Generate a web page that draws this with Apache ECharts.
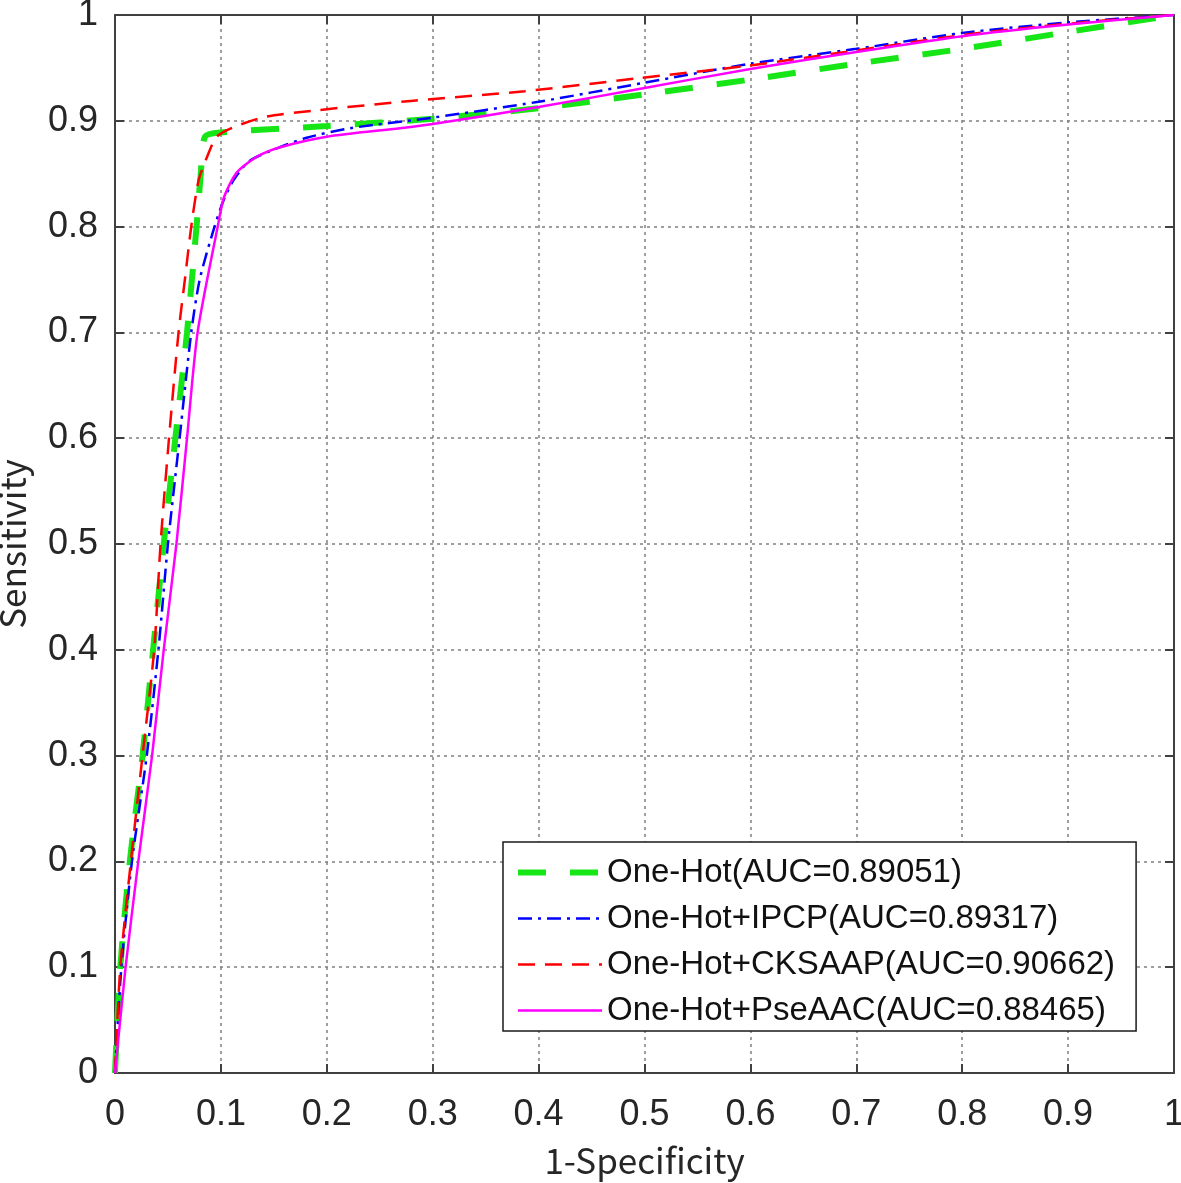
<!DOCTYPE html>
<html>
<head>
<meta charset="utf-8">
<script src="https://cdn.jsdelivr.net/npm/echarts@6/dist/echarts.min.js"></script>
<style>
  html, body { margin: 0; padding: 0; background: #fff; }
  #chart { width: 1181px; height: 1183px; }
</style>
</head>
<body>
<div id="chart"></div>
<script>
// ROC curves (x = 1-Specificity, y = Sensitivity)
const oneHotFpr = [0, 0.005, 0.014, 0.026, 0.036, 0.046, 0.057, 0.068, 0.077, 0.081, 0.085, 0.1, 0.2, 0.3, 0.4, 0.5, 0.6, 0.7, 0.8, 0.9, 1]
const oneHotTpr = [0, 0.1, 0.2, 0.3, 0.4, 0.5, 0.6, 0.7, 0.8, 0.85, 0.885, 0.889, 0.895, 0.902, 0.912, 0.925, 0.939, 0.954, 0.968, 0.984, 1]

const ipcpFpr = [0, 0.006, 0.016, 0.030, 0.041, 0.050, 0.061, 0.072, 0.080, 0.094, 0.103, 0.112, 0.127, 0.153, 0.181, 0.222, 0.3, 0.4, 0.5, 0.6, 0.7, 0.8, 0.9, 1]
const ipcpTpr = [0, 0.1, 0.2, 0.3, 0.4, 0.5, 0.6, 0.7, 0.75, 0.8, 0.826, 0.844, 0.862, 0.874, 0.884, 0.893, 0.903, 0.918, 0.936, 0.954, 0.968, 0.983, 0.993, 1]

const cksaapFpr = [0, 0.005, 0.015, 0.026, 0.037, 0.043, 0.051, 0.060, 0.066, 0.072, 0.079, 0.087, 0.096, 0.112, 0.143, 0.191, 0.282, 0.387, 0.492, 0.597, 0.703, 0.808, 0.913, 1]
const cksaapTpr = [0, 0.1, 0.2, 0.3, 0.4, 0.5, 0.6, 0.7, 0.75, 0.8, 0.844, 0.866, 0.885, 0.894, 0.904, 0.910, 0.919, 0.928, 0.94, 0.952, 0.967, 0.982, 0.993, 1]

const pseaacFpr = [0, 0.010, 0.022, 0.035, 0.046, 0.058, 0.068, 0.078, 0.097, 0.103, 0.115, 0.134, 0.156, 0.2, 0.269, 0.3, 0.4, 0.5, 0.6, 0.7, 0.8, 0.9, 1]
const pseaacTpr = [0, 0.1, 0.2, 0.3, 0.4, 0.5, 0.6, 0.7, 0.8, 0.828, 0.851, 0.866, 0.875, 0.885, 0.893, 0.897, 0.913, 0.931, 0.949, 0.965, 0.98, 0.991, 1]

const seriesNames = [
  'One-Hot(AUC=0.89051)',
  'One-Hot+IPCP(AUC=0.89317)',
  'One-Hot+CKSAAP(AUC=0.90662)',
  'One-Hot+PseAAC(AUC=0.88465)'
]
const tickValues = ['0', '0.1', '0.2', '0.3', '0.4', '0.5', '0.6', '0.7', '0.8', '0.9', '1']

const pairs = (xs, ys) => xs.map((x, i) => [x, ys[i]])

const chart = echarts.init(document.getElementById('chart'))

const labelFont = { fontFamily: 'Liberation Sans', fontSize: 36, color: '#262626' }
const nameFont = { fontFamily: 'Noto Sans CJK SC', fontSize: 35, color: '#262626' }
const gridLine = { show: true, lineStyle: { type: [3, 4], color: '#808080', width: 1.5 } }
const boxLine = { show: true, onZero: false, lineStyle: { color: '#404040', width: 2 } }
const inTick = { show: true, inside: true, length: 9, lineStyle: { color: '#404040', width: 2 } }

const option = {
  animation: false,
  backgroundColor: '#fff',
  grid: { left: 115, top: 15, right: 7, bottom: 110, show: false, containLabel: false, outerBoundsMode: 'none' },
  legend: {
    orient: 'vertical',
    left: 503,
    top: 842,
    padding: [14, 21, 4, 12],
    itemGap: 13,
    itemWidth: 84,
    itemHeight: 14,
    backgroundColor: '#fff',
    borderColor: '#1a1a1a',
    borderWidth: 1.5,
    itemStyle: { opacity: 0 },
    lineStyle: { width: 'inherit' },
    textStyle: { fontFamily: 'Liberation Sans', fontSize: 33, lineHeight: 33, color: '#111' },
    data: seriesNames
  },
  xAxis: [{
    type: 'value', min: 0, max: 1, interval: 0.1, position: 'bottom',
    name: '1-Specificity', nameLocation: 'middle', nameGap: 70,
    nameTextStyle: nameFont,
    axisLine: boxLine, axisTick: inTick,
    axisLabel: Object.assign({ margin: 24, formatter: v => tickValues[Math.round(v * 10)] }, labelFont),
    splitLine: gridLine
  }, {
    type: 'value', min: 0, max: 1, interval: 0.1, position: 'top',
    axisLine: boxLine, axisTick: inTick, axisLabel: { show: false }, splitLine: { show: false }
  }],
  yAxis: [{
    type: 'value', min: 0, max: 1, interval: 0.1, position: 'left',
    name: 'Sensitivity', nameLocation: 'middle', nameGap: 85,
    nameTextStyle: nameFont,
    axisLine: boxLine, axisTick: inTick,
    axisLabel: Object.assign({ margin: 17, formatter: v => tickValues[Math.round(v * 10)] }, labelFont),
    splitLine: gridLine
  }, {
    type: 'value', min: 0, max: 1, interval: 0.1, position: 'right',
    axisLine: boxLine, axisTick: inTick, axisLabel: { show: false }, splitLine: { show: false }
  }],
  series: [
    {
      name: seriesNames[0], type: 'line', symbol: 'none', smooth: 0.25,
      data: pairs(oneHotFpr, oneHotTpr),
      lineStyle: { color: '#16e616', width: 6, type: [28, 24] },
      itemStyle: { color: '#16e616' }
    },
    {
      name: seriesNames[1], type: 'line', symbol: 'none', smooth: 0.25,
      data: pairs(ipcpFpr, ipcpTpr),
      lineStyle: { color: '#0000ff', width: 2.5, type: [14, 6, 3, 6] },
      itemStyle: { color: '#0000ff' }
    },
    {
      name: seriesNames[2], type: 'line', symbol: 'none', smooth: 0.25,
      data: pairs(cksaapFpr, cksaapTpr),
      lineStyle: { color: '#ff0000', width: 2.5, type: [17, 10] },
      itemStyle: { color: '#ff0000' }
    },
    {
      name: seriesNames[3], type: 'line', symbol: 'none', smooth: 0.25,
      data: pairs(pseaacFpr, pseaacTpr),
      lineStyle: { color: '#ff00ff', width: 2.5, type: 'solid' },
      itemStyle: { color: '#ff00ff' }
    }
  ]
}

chart.setOption(option)
</script>
</body>
</html>
